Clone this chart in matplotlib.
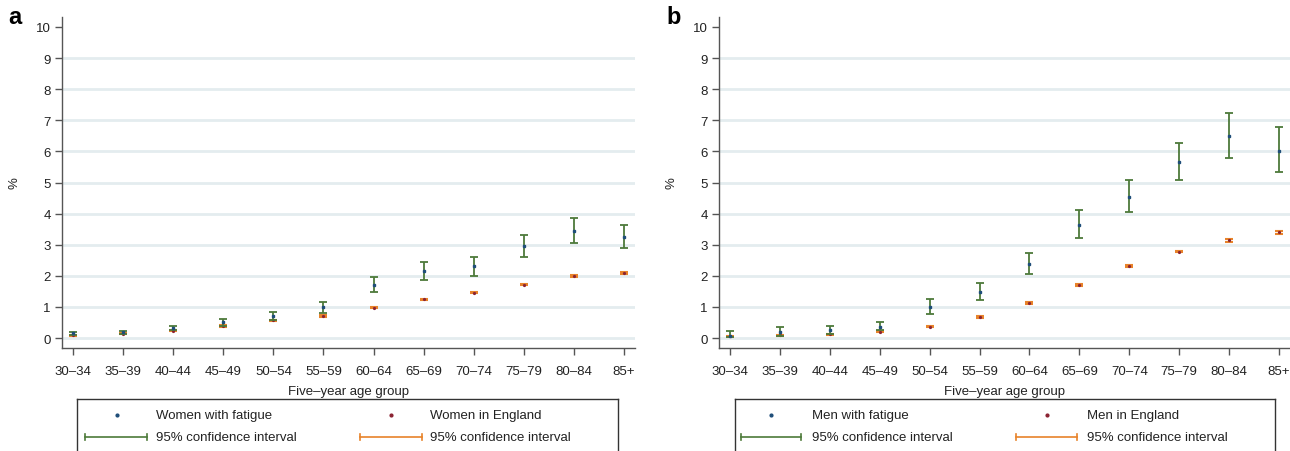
import matplotlib
matplotlib.use("Agg")
import matplotlib.pyplot as plt

plt.rcParams['font.family'] = ['Liberation Sans', 'DejaVu Sans']

age_groups = ["30–34", "35–39", "40–44", "45–49", "50–54", "55–59",
              "60–64", "65–69", "70–74", "75–79", "80–84", "85+"]

# Panel a: women
women_fatigue = [0.15, 0.18, 0.31, 0.50, 0.72, 0.99, 1.71, 2.15, 2.30, 2.95, 3.44, 3.25]
women_fatigue_lo = [0.10, 0.13, 0.25, 0.40, 0.59, 0.82, 1.48, 1.88, 2.01, 2.62, 3.06, 2.89]
women_fatigue_hi = [0.20, 0.24, 0.38, 0.61, 0.85, 1.17, 1.96, 2.46, 2.61, 3.30, 3.85, 3.62]
women_england = [0.09, 0.14, 0.24, 0.39, 0.57, 0.71, 0.98, 1.25, 1.46, 1.72, 2.00, 2.09]
women_england_lo = [0.07, 0.12, 0.22, 0.37, 0.55, 0.69, 0.96, 1.23, 1.44, 1.69, 1.97, 2.06]
women_england_hi = [0.11, 0.16, 0.26, 0.41, 0.59, 0.73, 1.00, 1.27, 1.48, 1.75, 2.03, 2.12]

# Panel b: men
men_fatigue = [0.05, 0.18, 0.25, 0.37, 0.99, 1.47, 2.37, 3.64, 4.54, 5.66, 6.48, 6.02]
men_fatigue_lo = [0.02, 0.08, 0.14, 0.25, 0.77, 1.21, 2.06, 3.20, 4.04, 5.09, 5.79, 5.35]
men_fatigue_hi = [0.22, 0.34, 0.40, 0.53, 1.25, 1.76, 2.73, 4.10, 5.09, 6.28, 7.23, 6.77]
men_england = [0.05, 0.09, 0.12, 0.20, 0.36, 0.68, 1.13, 1.70, 2.32, 2.78, 3.14, 3.40]
men_england_lo = [0.03, 0.07, 0.10, 0.18, 0.34, 0.66, 1.11, 1.67, 2.29, 2.75, 3.10, 3.35]
men_england_hi = [0.07, 0.11, 0.14, 0.22, 0.38, 0.70, 1.15, 1.73, 2.35, 2.81, 3.18, 3.45]

yticks = list(range(0, 11))

GREEN = "#4d7a3a"
ORANGE = "#e8832a"
BLUE = "#1f4e79"
MAROON = "#8b2332"
GRID = "#e4ecef"
SPINE = "#555555"
TXT = "#222222"

W, H = 1290, 452
fig = plt.figure(figsize=(W / 100, H / 100), dpi=100)


def fx(px):
    return px / W


def fy(py):
    return 1 - py / H


def draw_panel(left, right, fat, flo, fhi, eng, elo, ehi, letter, letter_x):
    ax = fig.add_axes([fx(left), fy(349), fx(right - left), fy(18) - fy(349)])
    x = list(range(len(age_groups)))
    for g in range(0, 10):
        ax.axhline(g, color=GRID, lw=2.0, zorder=0)
    ax.errorbar(x, eng, yerr=[[e - l for e, l in zip(eng, elo)], [h - e for e, h in zip(eng, ehi)]],
                fmt='o', color=MAROON, ms=1.3, ecolor=ORANGE, elinewidth=1.4,
                capsize=3.0, capthick=1.5, zorder=3)
    ax.errorbar(x, fat, yerr=[[f - l for f, l in zip(fat, flo)], [h - f for f, h in zip(fat, fhi)]],
                fmt='s', color=BLUE, ms=1.8, ecolor=GREEN, elinewidth=1.3,
                capsize=3.2, capthick=1.3, zorder=4)
    ax.set_xlim(-0.22, 11.22)
    ax.set_ylim(-0.32, 10.32)
    ax.set_xticks(x)
    ax.set_xticklabels(age_groups, fontsize=9.5, color=TXT)
    ax.set_yticks(yticks)
    ax.set_yticklabels([str(t) for t in yticks], fontsize=9.5, color=TXT)
    ax.tick_params(axis='both', direction='out', length=5, width=1, color=SPINE)
    ax.tick_params(axis='x', pad=7)
    ax.tick_params(axis='y', pad=3)
    for s in ['top', 'right']:
        ax.spines[s].set_visible(False)
    for s in ['left', 'bottom']:
        ax.spines[s].set_color(SPINE)
        ax.spines[s].set_linewidth(1.0)
    ax.set_ylabel("%", fontsize=9.5, color=TXT, labelpad=11)
    ax.set_xlabel("Five–year age group", fontsize=9.5, color=TXT, labelpad=6)
    fig.text(fx(letter_x), fy(17), letter, fontsize=17, fontweight='bold', va='center', ha='left')
    return ax


draw_panel(62, 635, women_fatigue, women_fatigue_lo, women_fatigue_hi,
           women_england, women_england_lo, women_england_hi, "a", 8)
draw_panel(719, 1290, men_fatigue, men_fatigue_lo, men_fatigue_hi,
           men_england, men_england_lo, men_england_hi, "b", 666)


def draw_legend(left, right, label1, label2, m1x, t1x, m2x, t2x, l1, l2):
    lax = fig.add_axes([fx(left), fy(470), fx(right - left), fy(400) - fy(470)])
    lax.set_xlim(left, right)
    lax.set_ylim(470, 400)
    lax.set_xticks([])
    lax.set_yticks([])
    for s in lax.spines.values():
        s.set_color("#333333")
        s.set_linewidth(1.0)
    r1, r2 = 416, 438
    lax.plot([m1x], [r1], 'o', color=BLUE, ms=2)
    lax.text(t1x, r1, label1, fontsize=9.5, va='center', ha='left', color=TXT)
    lax.plot([m2x], [r1], 'o', color=MAROON, ms=2)
    lax.text(t2x, r1, label2, fontsize=9.5, va='center', ha='left', color=TXT)
    lax.plot([l1[0], l1[1]], [r2, r2], color=GREEN, lw=1.2)
    lax.plot([l1[0], l1[0]], [r2 - 3, r2 + 3], color=GREEN, lw=1.2)
    lax.plot([l1[1], l1[1]], [r2 - 3, r2 + 3], color=GREEN, lw=1.2)
    lax.text(t1x, r2, "95% confidence interval", fontsize=9.5, va='center', ha='left', color=TXT)
    lax.plot([l2[0], l2[1]], [r2, r2], color=ORANGE, lw=1.2)
    lax.plot([l2[0], l2[0]], [r2 - 3, r2 + 3], color=ORANGE, lw=1.2)
    lax.plot([l2[1], l2[1]], [r2 - 3, r2 + 3], color=ORANGE, lw=1.2)
    lax.text(t2x, r2, "95% confidence interval", fontsize=9.5, va='center', ha='left', color=TXT)


draw_legend(77, 618, "Women with fatigue", "Women in England", 117, 156, 391, 430,
            (85, 147), (360, 422))
draw_legend(735, 1275, "Men with fatigue", "Men in England", 771, 812, 1047, 1087,
            (741, 801), (1016, 1077))

fig.savefig("out.png", dpi=100)
